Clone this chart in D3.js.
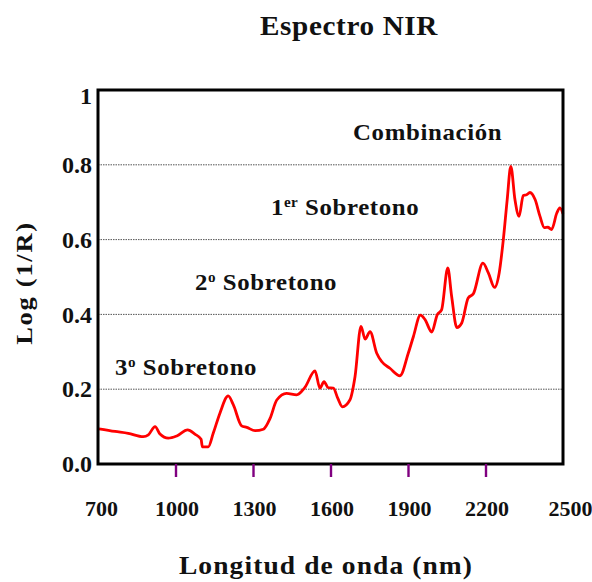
<!DOCTYPE html>
<html>
<head>
<meta charset="utf-8">
<script src="https://cdn.jsdelivr.net/npm/d3@7"></script>
<style>
  html, body { margin: 0; padding: 0; background: #fff; }
  svg { display: block; }
  text { font-family: "Liberation Serif", "Times New Roman", serif; font-weight: bold; fill: #111; }
</style>
</head>
<body>
<svg id="chart" width="592" height="582"></svg>
<script>
// NIR spectrum: wavelength (nm) and absorbance log(1/R)
const wavelength = [704,766,817,875,895,921,940,972,1005,1047,1075,1099,1104,1127,1146,1172,1204,1224,1256,1276,1308,1340,1366,1392,1430,1469,1501,1540,1559,1575,1591,1611,1628,1646,1675,1695,1718,1734,1753,1779,1798,1830,1869,1901,1921,1948,1966,1992,2013,2030,2054,2069,2089,2108,2133,2153,2190,2211,2235,2253,2269,2284,2298,2314,2330,2346,2359,2372,2392,2411,2428,2441,2456,2476,2488,2500];
const absorbance = [0.094,0.087,0.082,0.073,0.078,0.100,0.080,0.069,0.075,0.091,0.080,0.066,0.046,0.046,0.082,0.136,0.182,0.158,0.102,0.098,0.089,0.093,0.122,0.171,0.189,0.185,0.205,0.249,0.203,0.220,0.204,0.203,0.176,0.153,0.171,0.234,0.368,0.334,0.354,0.296,0.274,0.256,0.236,0.296,0.341,0.398,0.386,0.353,0.399,0.412,0.524,0.448,0.365,0.377,0.444,0.455,0.537,0.511,0.472,0.511,0.600,0.707,0.796,0.707,0.662,0.718,0.720,0.726,0.707,0.662,0.632,0.633,0.627,0.671,0.685,0.669];

const xTicks = [700, 1000, 1300, 1600, 1900, 2200, 2500];
const yTicks = [0, 0.2, 0.4, 0.6, 0.8, 1];
const gridValues = [0.2, 0.4, 0.6, 0.8];

// Spectral region labels: [main text, superscript, rest]
const regionLabels = [
  ["Combinación", "", ""],
  ["1", "er", " Sobretono"],
  ["2", "o", " Sobretono"],
  ["3", "o", " Sobretono"]
];

const titleText = "Espectro NIR";
const xTitle = "Longitud de onda (nm)";
const yTitle = "Log (1/R)";

const svg = d3.select("#chart");
const plotLeft = 98, plotRight = 563, plotTop = 90, plotBottom = 464;

const x = d3.scaleLinear().domain([700, 2500]).range([plotLeft, plotRight]);
const y = d3.scaleLinear().domain([0, 1]).range([plotBottom, plotTop]);

// text in a slightly widened old-style face
function wideText(px, py, opts) {
  const g = svg.append("g")
    .attr("transform", `translate(${px},${py})${opts.rotate ? ` rotate(${opts.rotate})` : ""} scale(${opts.stretch || 1},1)`);
  return g.append("text")
    .attr("text-anchor", opts.anchor || "start")
    .attr("font-size", opts.size)
    .attr("letter-spacing", opts.spacing || 0);
}

// dotted gridlines
svg.append("g").selectAll("line").data(gridValues).join("line")
  .attr("x1", plotLeft).attr("x2", plotRight)
  .attr("y1", d => y(d)).attr("y2", d => y(d))
  .attr("stroke", "#555").attr("stroke-width", 1)
  .attr("stroke-dasharray", "1.5,1");

// region labels
const labelPos = [
  {x: 353, y: 140},
  {x: 271, y: 215},
  {x: 195, y: 290},
  {x: 115, y: 375}
];
regionLabels.forEach((l, i) => {
  const t = wideText(labelPos[i].x, labelPos[i].y, {size: 23, spacing: 0.6, stretch: 1.08});
  t.append("tspan").text(l[0]);
  if (l[1]) {
    t.append("tspan").attr("dy", -8).attr("font-size", 14).attr("letter-spacing", 0.3).text(l[1]);
    t.append("tspan").attr("dy", 8).text(l[2]);
  }
});

// spectrum line
const line = d3.line()
  .x((d, i) => x(wavelength[i]))
  .y(d => y(d))
  .curve(d3.curveMonotoneX);

svg.append("path")
  .datum(absorbance)
  .attr("d", line)
  .attr("fill", "none")
  .attr("stroke", "#ff0000")
  .attr("stroke-width", 2.8)
  .attr("stroke-linejoin", "round");

// plot frame
svg.append("rect")
  .attr("x", plotLeft).attr("y", plotTop)
  .attr("width", plotRight - plotLeft).attr("height", plotBottom - plotTop)
  .attr("fill", "none").attr("stroke", "#000").attr("stroke-width", 3);

// x axis
const xAxis = svg.append("g")
  .attr("transform", `translate(0,${plotBottom})`)
  .call(d3.axisBottom(x).tickValues(xTicks).tickSize(13).tickPadding(23).tickFormat(d3.format("d")));
xAxis.select(".domain").remove();
xAxis.selectAll(".tick line")
  .attr("stroke", "#800080").attr("stroke-width", 2.4)
  .attr("display", d => (d === 700 || d === 2500) ? "none" : null);
xAxis.selectAll(".tick text")
  .attr("font-size", 22)
  .attr("dx", d => d === 700 ? 3 : d === 2500 ? 7 : 1)
  .attr("fill", "#111");

// y axis
const yAxis = svg.append("g")
  .attr("transform", `translate(${plotLeft},0)`)
  .call(d3.axisLeft(y).tickValues(yTicks).tickSize(0).tickPadding(6)
    .tickFormat(d => d === 1 ? "1" : d3.format(".1f")(d)));
yAxis.select(".domain").remove();
yAxis.selectAll(".tick text")
  .attr("font-size", 24)
  .attr("dy", d => d === 1 ? "0.55em" : "0.32em")
  .attr("fill", "#111");

// titles
wideText(349, 35, {anchor: "middle", size: 27, spacing: 0.6, stretch: 1.08}).text(titleText);
wideText(326, 574, {anchor: "middle", size: 25, spacing: 1, stretch: 1.1}).text(xTitle);
wideText(32, 283, {anchor: "middle", size: 24, spacing: 1.6, stretch: 1.1, rotate: -90}).text(yTitle);
</script>
</body>
</html>
